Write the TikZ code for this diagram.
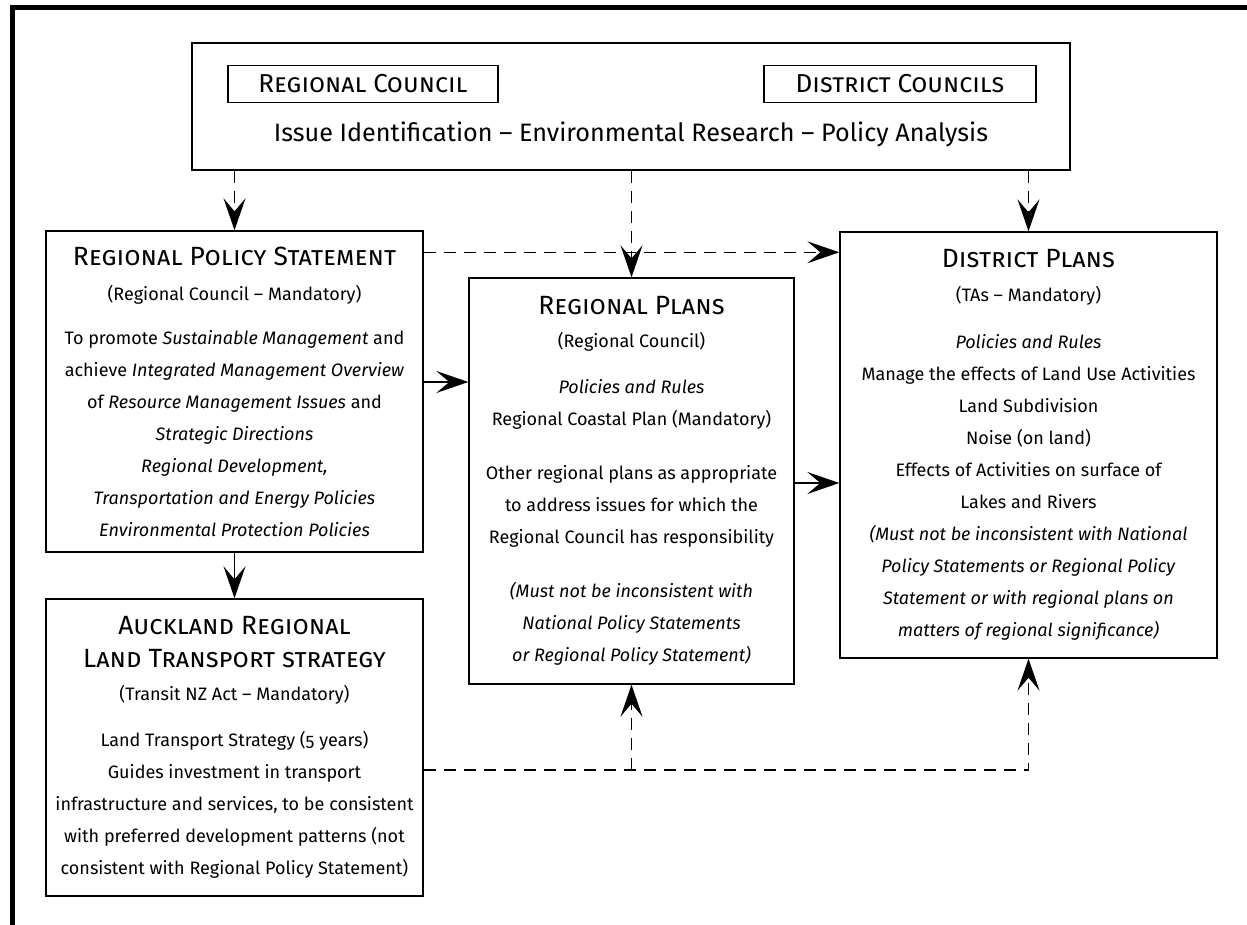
\documentclass[tikz,border=0pt]{standalone}
\usepackage{fontspec}
\setmainfont{Fira Sans}[Numbers=OldStyle]
\usetikzlibrary{arrows.meta,positioning}

% fonts used in the boxes
\newcommand{\bodyfont}{\fontsize{9}{16}\selectfont}
\newcommand{\boxhead}[1]{{\fontsize{13.2}{16}\selectfont\textsc{#1}}}

\tikzset{
  plan/.style={draw, line width=0.7pt, align=center, inner sep=0pt, font=\bodyfont},
  council/.style={draw, line width=0.7pt, inner sep=0pt, font=\fontsize{13}{14}\selectfont},
  arr/.style={-{Stealth[length=16pt,width=11pt,inset=6.5pt]}, line width=0.6pt},
  dashline/.style={dash pattern=on 6pt off 4pt}
}

\begin{document}
\begin{tikzpicture}[x=0.5pt,y=-0.5pt]
  \useasboundingbox (0,0) rectangle (1247,925);
  % Frame
  \draw[line width=2.5pt] (1247,7.5) -- (12,7.5) -- (12,925);

  % Councils
  \node[draw, line width=1.3pt, minimum width=439pt, minimum height=63.5pt] (top) at (631,106.5) {};
  \node[council, minimum width=135pt, minimum height=18.5pt] (rc) at (363,84) {\textsc{Regional Council}};
  \node[council, minimum width=136pt, minimum height=18.5pt] (dc) at (900,84) {\textsc{District Councils}};
  \node[font=\fontsize{12.6}{14}\selectfont] (issue) at (631,134)
    {Issue Identification -- Environmental Research -- Policy Analysis};

  % Plans
  \node[plan, minimum width=188.5pt, minimum height=160.5pt] (rps) at (234.5,391.5) {%
    \boxhead{Regional Policy Statement}\\[1.5pt]
    (Regional Council -- Mandatory)\\[6pt]
    To promote \textit{Sustainable Management} and\\
    achieve \textit{Integrated Management Overview}\\
    of \textit{Resource Management Issues} and\\
    \textit{Strategic Directions}\\
    \textit{Regional Development,}\\
    \textit{Transportation and Energy Policies}\\
    \textit{Environmental Protection Policies}};

  \node[plan, minimum width=188.5pt, minimum height=148.5pt] (ats) at (234.5,747.5) {%
    \boxhead{Auckland Regional}\\[0.5pt]
    \boxhead{Land Transport strategy}\\[0.5pt]
    (Transit NZ Act -- Mandatory)\\[7pt]
    Land Transport Strategy (5 years)\\
    Guides investment in transport\\
    infrastructure and services, to be consistent\\
    with preferred development patterns (not\\
    consistent with Regional Policy Statement)};

  \node[plan, minimum width=162.5pt, minimum height=203pt] (rp) at (631.5,481) {%
    \boxhead{Regional Plans}\\[0.5pt]
    (Regional Council)\\[7pt]
    \textit{Policies and Rules}\\
    Regional Coastal Plan (Mandatory)\\[11pt]
    Other regional plans as appropriate\\
    to address issues for which the\\
    Regional Council has responsibility\\[11pt]
    \textit{(Must not be inconsistent with}\\
    \textit{National Policy Statements}\\
    \textit{or Regional Policy Statement)}};

  \node[plan, minimum width=188.5pt, minimum height=213pt] (dp) at (1028.5,445) {%
    \boxhead{District Plans}\\[1pt]
    (TAs -- Mandatory)\\[7.5pt]
    \textit{Policies and Rules}\\
    Manage the effects of Land Use Activities\\
    Land Subdivision\\
    Noise (on land)\\
    Effects of Activities on surface of\\
    Lakes and Rivers\\
    \textit{(Must not be inconsistent with National}\\
    \textit{Policy Statements or Regional Policy}\\
    \textit{Statement or with regional plans on}\\
    \textit{matters of regional significance)}};

  % Connectors
  \draw[arr, dashline] (top.south -| rps.north) -- (rps.north);
  \draw[arr, dashline] (top.south -| rp.north) -- (rp.north);
  \draw[arr, dashline] (top.south -| dp.north) -- (dp.north);
  \draw[arr, dashline] ([yshift=-11pt]rps.north east) -- ([yshift=-11pt]rps.north east -| dp.west);
  \draw[arr] ([yshift=4.75pt]rps.east) -- ([yshift=4.75pt]rps.east -| rp.west);
  \draw[arr] ([yshift=-1pt]rp.east) -- ([yshift=-1pt]rp.east -| dp.west);
  \draw[arr] (rps.south) -- (ats.north);
  \coordinate (link) at ([yshift=-11.25pt]ats.east -| rp.south);
  \draw[arr, dashline] ([yshift=-11.25pt]ats.east) -- ([yshift=-11.25pt]ats.east -| dp.south) -- (dp.south);
  \draw[arr, dashline] (link) -- (rp.south);
\end{tikzpicture}
\end{document}
